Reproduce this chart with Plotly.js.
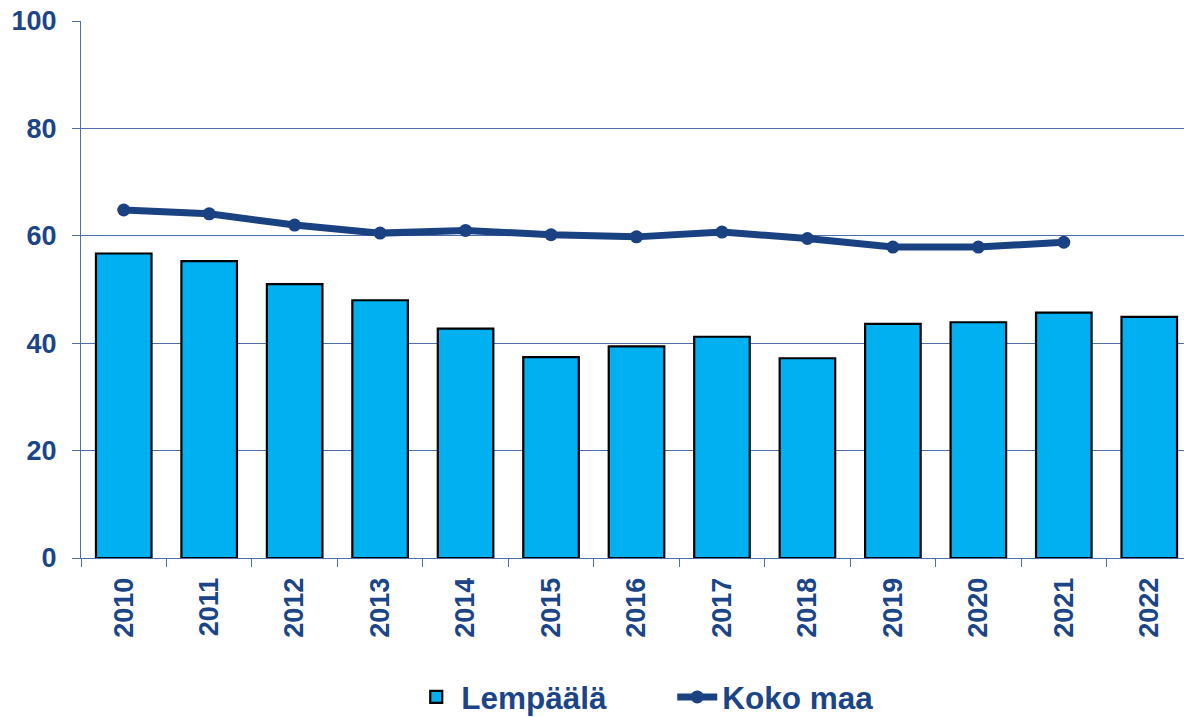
<!DOCTYPE html>
<html>
<head>
<meta charset="utf-8">
<script src="https://cdn.plot.ly/plotly-3.0.1.min.js"></script>
<style>
html,body{margin:0;padding:0;overflow:hidden;background:#fff;}
#chart{width:1192px;height:717px;}
</style>
</head>
<body>
<div id="chart"></div>
<script>
const years = ["2010","2011","2012","2013","2014","2015","2016","2017","2018","2019","2020","2021","2022"];
const lempaala = [56.7, 55.3, 51.0, 48.0, 42.7, 37.4, 39.4, 41.2, 37.2, 43.6, 43.9, 45.7, 44.9];
const kokoMaaYears = ["2010","2011","2012","2013","2014","2015","2016","2017","2018","2019","2020","2021"];
const kokoMaa = [64.8, 64.1, 62.0, 60.5, 61.0, 60.2, 59.8, 60.7, 59.5, 57.9, 57.9, 58.8];
const yTicks = [0, 20, 40, 60, 80, 100];

const textColor = "#1c4587";
const lineColor = "#1a4282";
const gridColor = "#4d6ea6";

const traces = [
  {
    type: "bar",
    name: "Lempäälä",
    x: years,
    y: lempaala,
    marker: {color: "#00b0f0", line: {color: "#000000", width: 2.2}},
    hoverinfo: "x+y"
  },
  {
    type: "scatter",
    mode: "lines+markers",
    name: "Koko maa",
    x: kokoMaaYears,
    y: kokoMaa,
    line: {color: lineColor, width: 7},
    marker: {color: lineColor, size: 13}
  }
];

const layout = {
  width: 1192,
  height: 717,
  margin: {l: 81, r: 0, t: 21, b: 159},
  paper_bgcolor: "#ffffff",
  plot_bgcolor: "#ffffff",
  font: {family: "Liberation Sans, Arial, sans-serif", color: textColor},
  bargap: 0.35,
  showlegend: true,
  legend: {
    orientation: "h",
    xref: "container", yref: "container",
    x: 0.345, xanchor: "left",
    y: 0.028, yanchor: "middle",
    font: {size: 31.5, color: textColor, family: "Liberation Sans, Arial, sans-serif", weight: "bold"},
    traceorder: "normal",
    itemwidth: 40,
    entrywidth: 206
  },
  xaxis: {
    type: "category",
    categoryorder: "array",
    categoryarray: years,
    range: [-0.5, 12.5],
    autorange: false,
    tickangle: -90,
    tickfont: {size: 27, color: textColor, weight: "bold"},
    ticks: "outside",
    tickson: "boundaries",
    ticklen: 8,
    tickcolor: gridColor,
    ticklabelstandoff: 8,
    showline: true,
    linecolor: gridColor,
    linewidth: 1,
    showgrid: false,
    fixedrange: true
  },
  yaxis: {
    range: [0, 100],
    autorange: false,
    tickvals: yTicks,
    ticktext: yTicks.map(String),
    tickfont: {size: 27, color: textColor, weight: "bold"},
    ticks: "outside",
    ticklen: 8,
    tickcolor: gridColor,
    ticklabelstandoff: 10,
    showline: true,
    linecolor: gridColor,
    linewidth: 1,
    showgrid: true,
    gridcolor: gridColor,
    gridwidth: 1,
    zeroline: false,
    fixedrange: true
  }
};

Plotly.newPlot("chart", traces, layout, {displayModeBar: false, responsive: false});
</script>
</body>
</html>
